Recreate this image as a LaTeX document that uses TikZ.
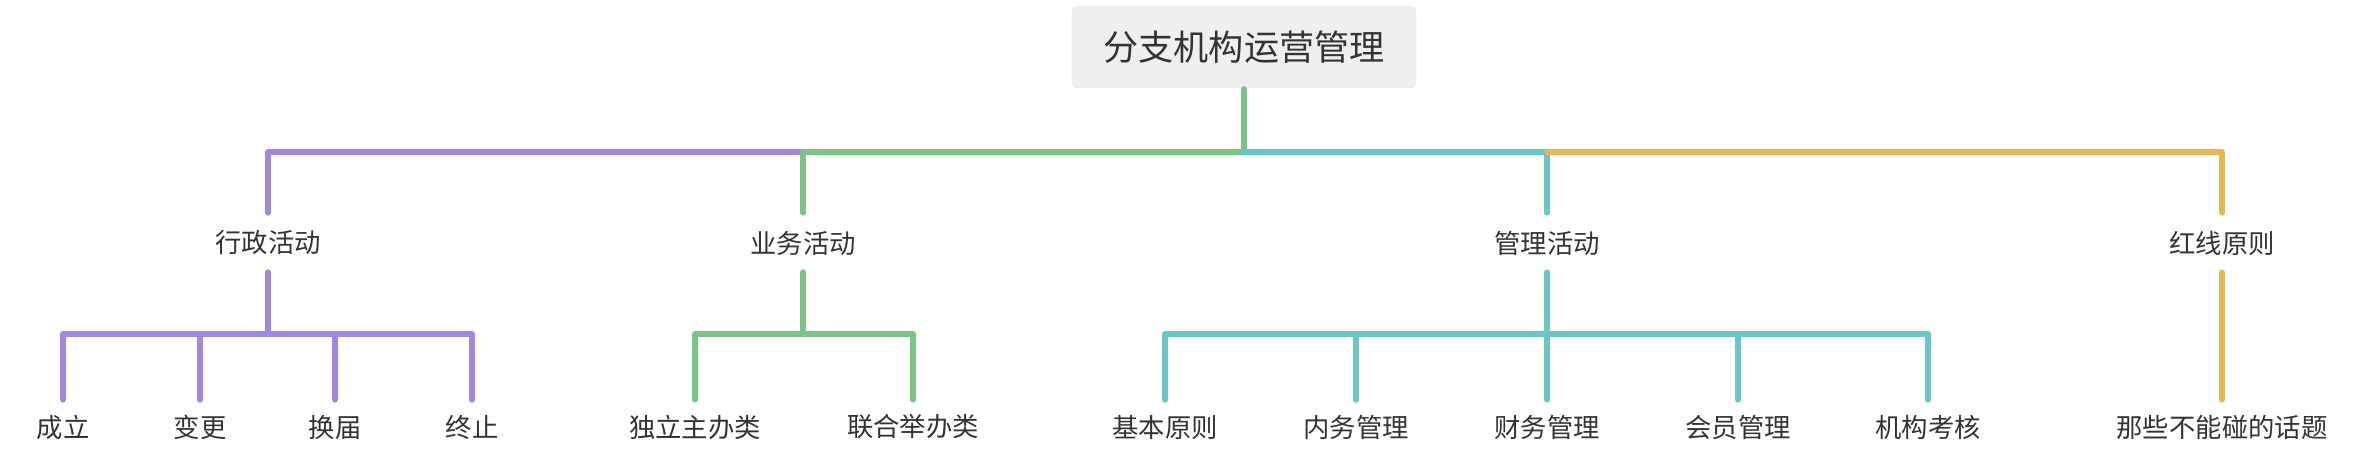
\documentclass[tikz,border=0pt]{standalone}
\usepackage{fontspec}
\newfontfamily\cjk{Noto Sans CJK SC}
\definecolor{rootfill}{HTML}{EEF0EF}
\definecolor{cpurple}{HTML}{A386E0}
\definecolor{cgreen}{HTML}{7AC583}
\definecolor{cteal}{HTML}{6CC6C8}
\definecolor{cyellow}{HTML}{E3B957}
\definecolor{ctext}{HTML}{333333}
\begin{document}
\begin{tikzpicture}[x=0.02cm,y=-0.02cm,line cap=round,line join=round,
  branch/.style={line width=3pt},
  topic/.style={text=ctext,font=\cjk\fontsize{15pt}{17pt}\selectfont},
  roottopic/.style={fill=rootfill,rounded corners=3pt,text=ctext,minimum width=6.9cm,minimum height=1.66cm,font=\cjk\fontsize{20pt}{24pt}\selectfont}]
\useasboundingbox (0,0) rectangle (2368,460);

\node[roottopic] (root) at (1244,47) {分支机构运营管理};

\node[topic] (xz) at (268,243) {行政活动};
\node[topic] (yw) at (803,243) {业务活动};
\node[topic] (gl) at (1547,243) {管理活动};
\node[topic] (hx) at (2222,243) {红线原则};

\node[topic] (cl) at (63,427) {成立};
\node[topic] (bg) at (200,427) {变更};
\node[topic] (hj) at (335,427) {换届};
\node[topic] (zz) at (472,427) {终止};
\node[topic] (dl) at (695,427) {独立主办类};
\node[topic] (lh) at (913,427) {联合举办类};
\node[topic] (jb) at (1165,427) {基本原则};
\node[topic] (nw) at (1356,427) {内务管理};
\node[topic] (cw) at (1547,427) {财务管理};
\node[topic] (hy) at (1738,427) {会员管理};
\node[topic] (jg) at (1928,427) {机构考核};
\node[topic] (nx) at (2222,427) {那些不能碰的话题};

% first level
\coordinate (bus) at (1244,152);
\draw[branch,cgreen] (root.south) -- (bus);
\draw[branch,cpurple] (bus) -- (268,152) -- (268,213);
\draw[branch,cgreen] (bus) -- (803,152) -- (803,213);
\draw[branch,cteal] (bus) -- (1547,152) -- (1547,213);
\draw[branch,cyellow] (1547,152) -- (2222,152) -- (2222,213);

% second level
\draw[branch,cpurple] (268,272) -- (268,334);
\draw[branch,cpurple] (63,400) -- (63,334) -- (472,334) -- (472,400);
\foreach \x in {200,335} \draw[branch,cpurple] (\x,334) -- (\x,400);

\draw[branch,cgreen] (803,272) -- (803,334);
\draw[branch,cgreen] (695,400) -- (695,334) -- (913,334) -- (913,400);

\draw[branch,cteal] (1547,272) -- (1547,400);
\draw[branch,cteal] (1165,400) -- (1165,334) -- (1928,334) -- (1928,400);
\foreach \x in {1356,1738} \draw[branch,cteal] (\x,334) -- (\x,400);

\draw[branch,cyellow] (2222,272) -- (2222,400);
\end{tikzpicture}
\end{document}
